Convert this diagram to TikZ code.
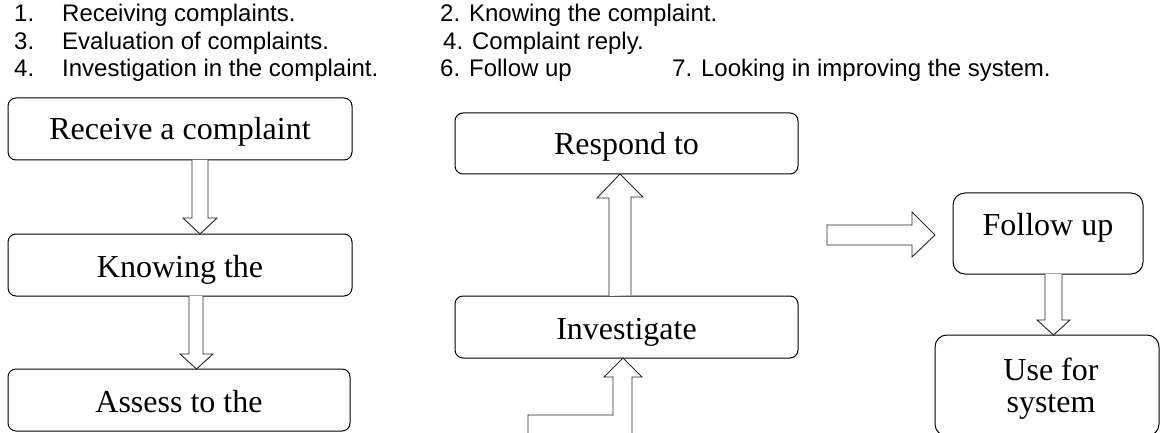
\documentclass[tikz,border=0pt]{standalone}
\usepackage{fontspec}
\setmainfont{Liberation Serif}
\newfontfamily\hdrfont{Liberation Sans}
\usetikzlibrary{calc}
\tikzset{
  boxnode/.style={draw=black, line width=1pt, rounded corners=8pt, inner sep=0pt, outer sep=0pt, rectangle},
  boxtext/.style={font=\fontsize{32}{36}\selectfont, inner sep=0pt, anchor=base},
  hdrtext/.style={font=\hdrfont\fontsize{24}{27}\selectfont, inner sep=0pt, anchor=base west},
  blockarrow/.style={draw=black!85, line width=0.9pt, line join=miter, fill=white}
}
\begin{document}
\begin{tikzpicture}[x=1pt,y=-1pt]
\useasboundingbox (0,0) rectangle (1160,433);
\clip (0,0) rectangle (1160,433);
% header
\node[hdrtext] (h1n) at (14,22) {1.};
\node[hdrtext] (h1t) at (62,22) {Receiving complaints.};
\node[hdrtext] (h3n) at (14,49.5) {3.};
\node[hdrtext] (h3t) at (62,49.5) {Evaluation of complaints.};
\node[hdrtext] (h4n) at (14,77) {4.};
\node[hdrtext] (h4t) at (62,77) {Investigation in the complaint.};
\node[hdrtext] (h2) at (440,22) {2. Knowing the complaint.};
\node[hdrtext] (h4b) at (443,49.5) {4. Complaint reply.};
\node[hdrtext] (h6) at (440,77) {6. Follow up};
\node[hdrtext] (h7) at (672,77) {7. Looking in improving the system.};
% left column
\node[boxnode, minimum width=344, minimum height=62] (b1) at (180,129) {};
\node[boxtext] (b1t) at (180,140) {Receive a complaint};
\node[boxnode, minimum width=344, minimum height=62] (b2) at (180,265) {};
\node[boxtext] (b2t) at (180,277) {Knowing the};
\node[boxnode, minimum width=342, minimum height=62] (b3) at (179,400) {};
\node[boxtext] (b3t) at (179,412) {Assess to the};
% middle column
\node[boxnode, minimum width=343, minimum height=61] (r) at (626.5,143.5) {};
\node[boxtext] (rt) at (626.5,155) {Respond to};
\node[boxnode, minimum width=343, minimum height=62] (inv) at (626.5,327) {};
\node[boxtext] (invt) at (626.5,339) {Investigate};
% right column
\node[boxnode, rounded corners=12pt, minimum width=190, minimum height=81] (f) at (1048,233.5) {};
\node[boxtext] (ft) at (1048,235) {Follow up};
\node[boxnode, rounded corners=12pt, minimum width=224, minimum height=101] (u) at (1047,385.5) {};
\node[boxtext] (ut1) at (1051,380) {Use for};
\node[boxtext] (ut2) at (1051,412) {system};
% arrows
\draw[blockarrow] ($(b1.south)+(12,0)$) -- ++(0,58) -- ++(-9,0) -- ($(b2.north)+(20,0)$) -- ++(17,-16) -- ++(-9,0) -- ++(0,-58);
\draw[blockarrow] ($(b2.south)+(9,0)$) -- ++(0,58) -- ++(-9,0) -- ($(b3.north)+(17.5,0)$) -- ++(16.5,-15) -- ++(-10,0) -- ++(0,-58);
\draw[blockarrow] ($(inv.north)+(-17.5,0)$) -- ++(0,-98) -- ++(-12,0) -- ($(r.south)+(-6.5,0)$) -- ++(23,23) -- ++(-12,0) -- ++(0,98);
\coordinate (a4l) at (528,440);
\coordinate (a4r) at (632,440);
\draw[blockarrow] (a4l) -- (528,415) -- (613,415) -- (613,377) -- (604,377) -- ($(inv.south)+(-3.5,0)$) -- (642,377) -- (632,377) -- (a4r);
\coordinate (a5s) at (827,235);
\draw[blockarrow] ($(a5s)+(0,-10)$) -- ++(85,0) -- ++(0,-13) -- ($(f.west)+(-18,1.5)$) -- (912,257) -- (912,245) -- (827,245) -- cycle;
\draw[blockarrow] ($(f.south)+(-3,0)$) -- ++(0,46) -- ++(-8,0) -- ($(u.north)+(6.5,0)$) -- ++(16.5,-15) -- ++(-8,0) -- ++(0,-46);
\end{tikzpicture}
\end{document}
